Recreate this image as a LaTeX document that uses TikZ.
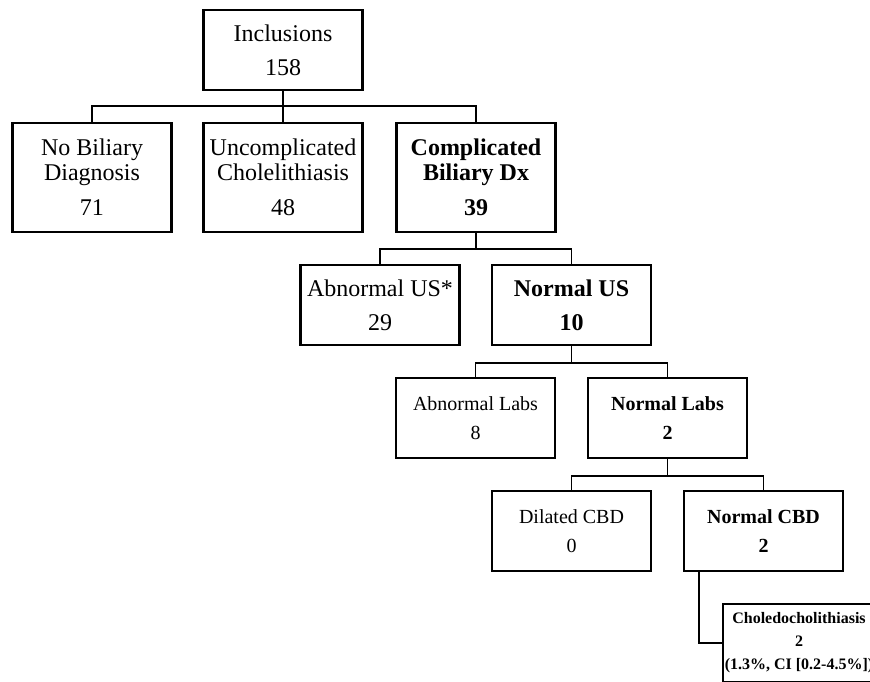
\documentclass[tikz,border=0pt]{standalone}
\usepackage{fontspec}
\setmainfont{Liberation Serif}
\tikzset{
	box/.style={draw, line width=2.1pt, inner sep=0pt, align=center, minimum width=159pt, minimum height=80pt, font={\fontsize{24}{34}\selectfont}},
	tallbox/.style={box, minimum height=109pt, font={\fontsize{24}{25}\selectfont}},
	smallbox/.style={box, font={\fontsize{20}{29}\selectfont}},
	link/.style={line width=1.6pt},
}
\begin{document}
\begin{tikzpicture}[x=1pt, y=-1pt]
	\useasboundingbox (0,0) rectangle (870,682);
	\node (incl) [box] at (283,50) {Inclusions\\158};
	\node (nobil) [tallbox] at (92,177.5) {No Biliary\\Diagnosis\\[10pt]71};
	\node (uncomp) [tallbox] at (283,177.5) {Uncomplicated\\Cholelithiasis\\[10pt]48};
	\node (comp) [tallbox] at (476,177.5) {\textbf{Complicated}\\\textbf{Biliary Dx}\\[10pt]\textbf{39}};
	\node (abus) [box] at (380,305) {Abnormal US*\\29};
	\node (normus) [box] at (571.5,305) {\textbf{Normal US}\\\textbf{10}};
	\node (ablabs) [smallbox] at (475.5,418) {Abnormal Labs\\8};
	\node (normlabs) [smallbox] at (667.5,418) {\textbf{Normal Labs}\\\textbf{2}};
	\node (dilcbd) [smallbox] at (571.5,531) {Dilated CBD\\0};
	\node (normcbd) [smallbox] at (763.5,531) {\textbf{Normal CBD}\\\textbf{2}};
	\node (chole) [box, minimum width=152pt, minimum height=78pt, font={\fontsize{16}{23}\selectfont\bfseries}] at (799,643) {Choledocholithiasis\\2\\(1.3\%, CI [0.2-4.5\%])};
	\draw [link] (incl) -- (uncomp);
	\draw [link] (nobil.north) -- ++(0,-16) -| (comp.north);
	\draw [link] (comp.south) -- ++(0,16) coordinate (fork2);
	\draw [link] (abus.north) |- (fork2) -| (normus.north);
	\draw [link] (normus.south) -- ++(0,17) coordinate (fork3);
	\draw [link] (ablabs.north) |- (fork3) -| (normlabs.north);
	\draw [link] (normlabs.south) -- ++(0,17) coordinate (fork4);
	\draw [link] (dilcbd.north) |- (fork4) -| (normcbd.north);
	\draw [link] ([xshift=16pt]normcbd.south west) |- (chole.west);
\end{tikzpicture}
\end{document}
